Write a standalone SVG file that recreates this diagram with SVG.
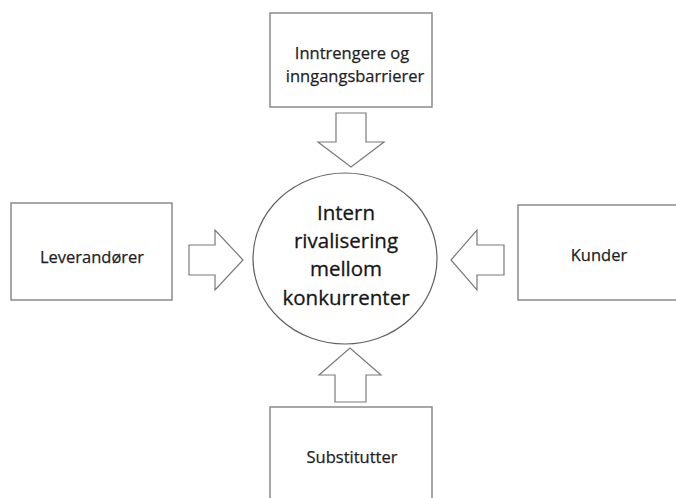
<svg xmlns="http://www.w3.org/2000/svg" width="676" height="498" viewBox="0 0 676 498">
  <style>
    .box { fill: #ffffff; stroke: #8a8a8a; stroke-width: 1.5; }
    .hub { fill: #ffffff; stroke: #606060; stroke-width: 1.2; }
    .arrow { fill: #ffffff; stroke: #7a7a7a; stroke-width: 1.2; stroke-linejoin: miter; }
    .lbl { font-family: "Open Sans", "Noto Sans", "Liberation Sans", sans-serif; font-size: 16.5px; fill: #1e1e1e; text-anchor: middle; stroke: #1e1e1e; stroke-width: 0.25; }
    .big { font-family: "Open Sans", "Noto Sans", "Liberation Sans", sans-serif; font-size: 20.5px; fill: #161616; text-anchor: middle; stroke: #161616; stroke-width: 0.3; }
  </style>
  <rect width="676" height="498" fill="#ffffff"/>

  <g id="connectors">
    <!-- top: pointing down -->
    <polygon class="arrow" points="336,113 366,113 366,142 384,142 351,167 318,142 336,142"/>
    <!-- left: pointing right -->
    <polygon class="arrow" points="189,245 215,245 215,230 243,260 215,290 215,275 189,275"/>
    <!-- right: pointing left -->
    <polygon class="arrow" points="504,245 477,245 477,230 451,260 477,290 477,275 504,275"/>
    <!-- bottom: pointing up -->
    <polygon class="arrow" points="335,402 366,402 366,375 381,375 350,348 319,375 335,375"/>
  </g>

  <g id="node-entrants">
    <rect class="box" x="270" y="13" width="162" height="94"/>
    <text class="lbl" x="352" y="59">Inntrengere og</text>
    <text class="lbl" x="355" y="82">inngangsbarrierer</text>
  </g>

  <g id="node-suppliers">
    <rect class="box" x="11" y="203" width="161" height="97"/>
    <text class="lbl" x="92" y="263">Leverandører</text>
  </g>

  <g id="node-customers">
    <rect class="box" x="518" y="205" width="170" height="95"/>
    <text class="lbl" x="599" y="261">Kunder</text>
  </g>

  <g id="node-substitutes">
    <rect class="box" x="270" y="407" width="162" height="100"/>
    <text class="lbl" x="352" y="463">Substitutter</text>
  </g>

  <g id="node-rivalry">
    <ellipse class="hub" cx="345" cy="258.5" rx="92" ry="85.5"/>
    <text class="big" x="346" y="219.5">Intern</text>
    <text class="big" x="346" y="247.5">rivalisering</text>
    <text class="big" x="346" y="275.5">mellom</text>
    <text class="big" x="346" y="304.5">konkurrenter</text>
  </g>
</svg>
